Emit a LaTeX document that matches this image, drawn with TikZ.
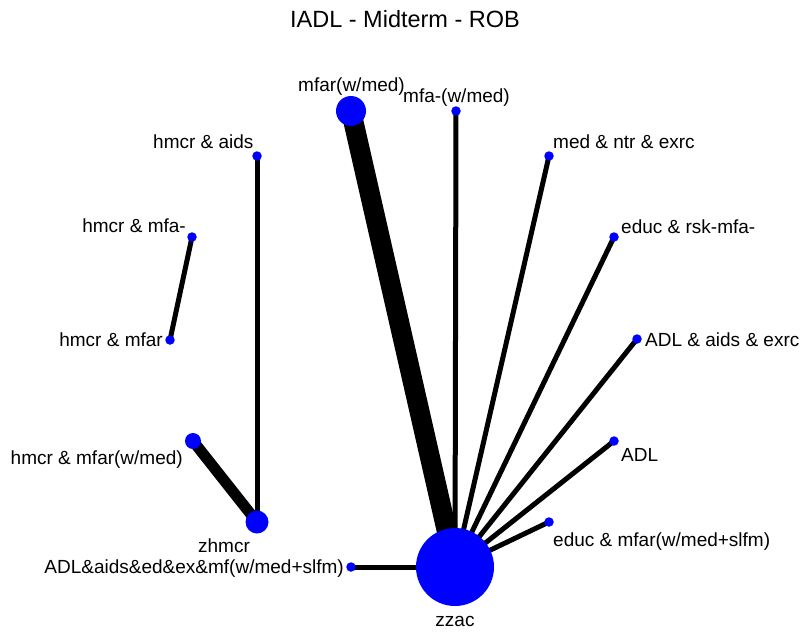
\documentclass[tikz,border=0pt]{standalone}
\usepackage{fontspec}
\setmainfont{Liberation Sans}
\pgfdeclarelayer{bg}
\pgfsetlayers{bg,main}
\begin{document}
\begin{tikzpicture}[x=1pt,y=-1pt,
  trt/.style={circle,fill=blue,inner sep=0pt,minimum size=#1},
  trt/.default=9.5pt,
  lbl/.style={inner sep=0pt,font=\fontsize{19}{19}\selectfont},
  link/.style={line width=#1,draw=black},
  link/.default=5pt,
  ]
\useasboundingbox (0,0) rectangle (801,632);

% title
\node[inner sep=0pt,anchor=base,font=\fontsize{23.5}{23.5}\selectfont] (title) at (405,27) {IADL - Midterm - ROB};

% treatments
\node[trt=78pt] (zzac) at (455,567) {};
\node[trt=30pt] (mfarwmed) at (351,111) {};
\node[trt] (mfawmed) at (456,111) {};
\node[trt] (medntr) at (549,156) {};
\node[trt] (educrsk) at (614,237) {};
\node[trt] (adlaidsexrc) at (637,339) {};
\node[trt] (adl) at (614,441) {};
\node[trt] (educmfar) at (549,522) {};
\node[trt] (adlall) at (351,567) {};
\node[trt] (hmcraids) at (257,156) {};
\node[trt] (hmcrmfa) at (192,237) {};
\node[trt] (hmcrmfar) at (170,340) {};
\node[trt=16pt] (hmcrmfarwmed) at (193,441) {};
\node[trt=23pt] (zhmcr) at (257,522) {};

% comparisons
\begin{pgfonlayer}{bg}
\draw[link=20pt] (zzac.center) -- (mfarwmed.center);
\draw[link] (zzac.center) -- (mfawmed.center);
\draw[link] (zzac.center) -- (medntr.center);
\draw[link] (zzac.center) -- (educrsk.center);
\draw[link] (zzac.center) -- (adlaidsexrc.center);
\draw[link] (zzac.center) -- (adl.center);
\draw[link] (zzac.center) -- (educmfar.center);
\draw[link] (zzac.center) -- (adlall.center);
\draw[link] (zhmcr.center) -- (hmcraids.center);
\draw[link=11pt] (zhmcr.center) -- (hmcrmfarwmed.center);
\draw[link] (hmcrmfa.center) -- (hmcrmfar.center);
\end{pgfonlayer}

% labels
\node[lbl,anchor=base west] (l-mfarwmed) at (298,91) {mfar(w/med)};
\node[lbl,anchor=base west] (l-mfawmed) at (403,102) {mfa-(w/med)};
\node[lbl,anchor=base west] (l-medntr) at (553,148) {med \& ntr \& exrc};
\node[lbl,anchor=base west] (l-educrsk) at (621,233) {educ \& rsk-mfa-};
\node[lbl,anchor=base west] (l-adlaidsexrc) at (645,346) {ADL \& aids \& exrc};
\node[lbl,anchor=base west] (l-adl) at (621,461) {ADL};
\node[lbl,anchor=base west] (l-educmfar) at (553,546) {educ \& mfar(w/med+slfm)};
\node[lbl,anchor=base] (l-zzac) at (455,626) {zzac};
\node[lbl,anchor=base east] (l-adlall) at (344,573) {ADL\&aids\&ed\&ex\&mf(w/med+slfm)};
\node[lbl,anchor=base] (l-zhmcr) at (224,552) {zhmcr};
\node[lbl,anchor=base east] (l-hmcrmfarwmed) at (183,464) {hmcr \& mfar(w/med)};
\node[lbl,anchor=base east] (l-hmcrmfar) at (163,346) {hmcr \& mfar};
\node[lbl,anchor=base east] (l-hmcrmfa) at (186,232) {hmcr \& mfa-};
\node[lbl,anchor=base west] (l-hmcraids) at (153,148) {hmcr \& aids};
\end{tikzpicture}
\end{document}
